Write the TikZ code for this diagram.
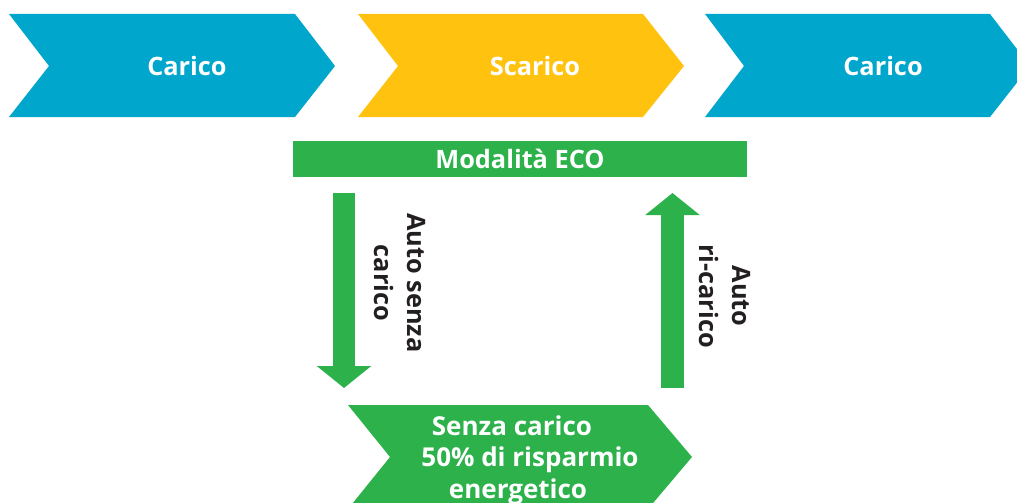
\documentclass[tikz,border=0pt]{standalone}
\usepackage{fontspec}
\setmainfont{Open Sans}
\usetikzlibrary{arrows.meta}
\definecolor{cblue}{RGB}{0,166,203}
\definecolor{cyellow}{RGB}{255,194,14}
\definecolor{cgreen}{RGB}{45,178,75}
\definecolor{ctext}{RGB}{35,31,32}
\begin{document}
\begin{tikzpicture}[x=0.75pt,y=-0.75pt,
  lbl/.style={font=\bfseries\fontsize{19}{23}\selectfont, text=white, inner sep=0pt},
  ecolbl/.style={font=\bfseries\fontsize{19}{23}\selectfont, text=white, inner sep=0pt},
  sidelbl/.style={font=\bfseries\fontsize{19}{25}\selectfont, text=ctext, rotate=-90, align=center, inner sep=0pt},
  botlbl/.style={font=\bfseries\fontsize{19.5}{23.5}\selectfont, text=white, align=center, inner sep=0pt},
  blockarrow/.style={draw=cgreen, line width=16.8pt, -{Triangle[width=40pt,length=16.5pt]}, shorten >=0pt}]
\useasboundingbox (0,0) rectangle (1017,503);
\begin{scope}
\clip (0,0) rectangle (1017,503);
% top chevrons
\fill[cblue] (9,14) -- (295,14) -- (335,66) -- (295,117) -- (9,117) -- (49,66) -- cycle;
\fill[cyellow] (358,14) -- (643,14) -- (684,66) -- (643,117) -- (358,117) -- (398,66) -- cycle;
\fill[cblue] (705,14) -- (990,14) -- (1030,66) -- (990,117) -- (705,117) -- (744,66) -- cycle;
\node[lbl] (c1) at (187,66) {Carico};
\node[lbl] (s1) at (535,66) {Scarico};
\node[lbl] (c2) at (883,66) {Carico};
% ECO bar
\node[fill=cgreen, minimum width=340.5pt, minimum height=27pt, inner sep=0pt] (eco) at (520,159) {};
\node[ecolbl] (ecot) at (520,159) {Modalità ECO};
% bottom chevron
\fill[cgreen] (348,405) -- (648,405) -- (692,457) -- (648,509) -- (348,509) -- (390,457) -- cycle;
\node[botlbl] (sc) at (518,460) {Senza carico\hspace*{9pt}\\\hspace*{18pt}50\% di risparmio\\energetico};
% block arrows
\coordinate (d1) at (344,193);
\coordinate (d2) at (344,388);
\coordinate (u1) at (672.5,388);
\coordinate (u2) at (672.5,193);
\draw[blockarrow] (d1) -- (d2);
\draw[blockarrow] (u1) -- (u2);
% side labels
\node[sidelbl] (l1) at (400,283) {Auto senza\\carico};
\node[sidelbl] (l2) at (725,296) {Auto\\ri-carico};
\end{scope}
\end{tikzpicture}
\end{document}
